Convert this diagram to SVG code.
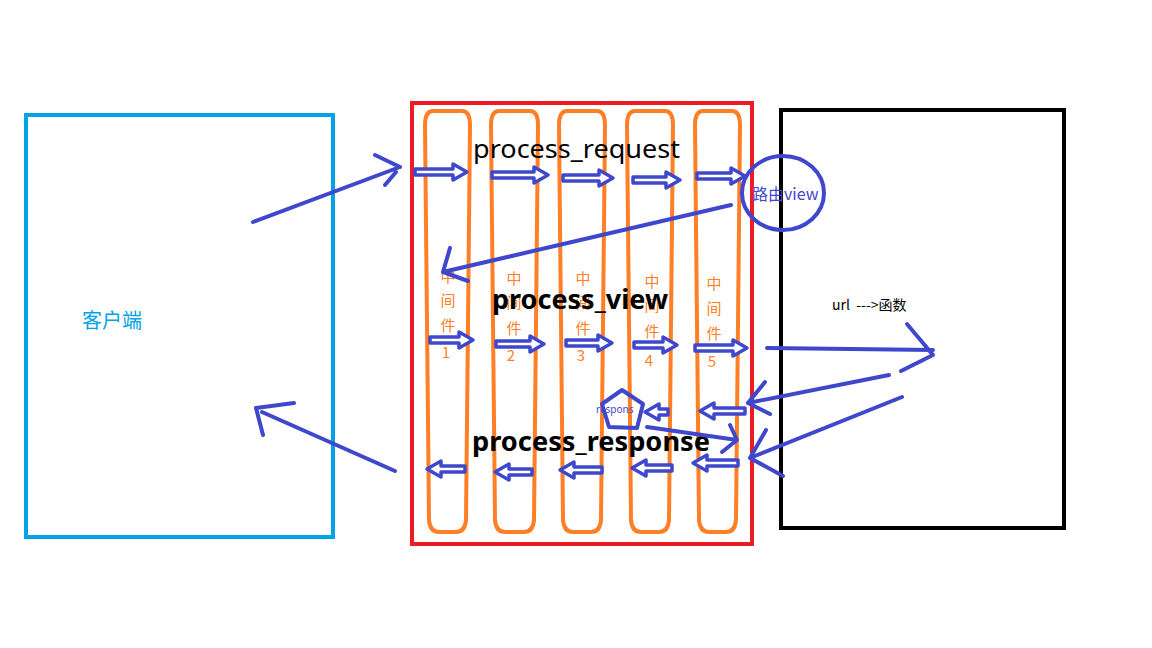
<svg xmlns="http://www.w3.org/2000/svg" width="1152" height="648" viewBox="0 0 1152 648">
<style>
.ba{fill:#fff;stroke:#3f48cc;stroke-width:3.5;stroke-linejoin:round}
.ln{fill:none;stroke:#3f48cc;stroke-width:4;stroke-linecap:round;stroke-linejoin:round}
.pill{fill:none;stroke:#ff7f27;stroke-width:4}
.mw{font-family:"Noto Sans CJK SC","Noto Sans",sans-serif;font-size:15px;fill:#ff7f27;text-anchor:middle}
.big{font-family:"Noto Sans","Noto Sans CJK SC",sans-serif;font-size:26px;fill:#000}
</style>
<rect width="1152" height="648" fill="#fff"/>
<g id="client">
<rect x="26" y="115" width="307" height="422" fill="none" stroke="#00a2e8" stroke-width="4"/>
<text x="82" y="328" font-family="Noto Sans CJK SC,sans-serif" font-size="20" fill="#00a2e8">客户端</text>
</g>
<g id="server">
<rect x="781" y="110" width="283" height="418" fill="none" stroke="#000" stroke-width="4"/>
<text x="832" y="310" font-family="Noto Sans CJK SC,sans-serif" font-size="14" fill="#000">url&#160; ---&gt;函数</text>
</g>
<g id="middleware-box">
<rect x="412" y="103" width="340" height="441" fill="none" stroke="#ed1c24" stroke-width="4"/>
</g>
<g id="mw1">
<path class="pill" d="M433 111 H462 Q470 111 470 125 L466 520 Q465 532 456 532 H439 Q430 532 429 520 L425 125 Q425 111 433 111 Z"/>
<text class="mw" x="448" y="282">中</text><text class="mw" x="448" y="306">间</text><text class="mw" x="448" y="331">件</text><text class="mw" x="446" y="358">1</text>
</g>
<g id="mw2">
<path class="pill" d="M499 111 H530 Q538 111 538 125 L534 520 Q533 532 524 532 H505 Q496 532 495 520 L491 125 Q491 111 499 111 Z"/>
<text class="mw" x="514" y="284">中</text><text class="mw" x="514" y="308">间</text><text class="mw" x="514" y="334">件</text><text class="mw" x="511" y="361">2</text>
</g>
<g id="mw3">
<path class="pill" d="M567 111 H597 Q605 111 605 125 L601 520 Q600 532 591 532 H573 Q564 532 563 520 L559 125 Q559 111 567 111 Z"/>
<text class="mw" x="583" y="284">中</text><text class="mw" x="583" y="308">间</text><text class="mw" x="583" y="334">件</text><text class="mw" x="581" y="361">3</text>
</g>
<g id="mw4">
<path class="pill" d="M635 111 H665 Q673 111 673 125 L669 520 Q668 532 659 532 H641 Q632 532 631 520 L627 125 Q627 111 635 111 Z"/>
<text class="mw" x="652" y="287">中</text><text class="mw" x="652" y="311">间</text><text class="mw" x="652" y="337">件</text><text class="mw" x="649" y="366">4</text>
</g>
<g id="mw5">
<path class="pill" d="M703 111 H732 Q740 111 740 125 L736 520 Q735 532 726 532 H709 Q700 532 699 520 L695 125 Q695 111 703 111 Z"/>
<text class="mw" x="714" y="289">中</text><text class="mw" x="714" y="314">间</text><text class="mw" x="714" y="339">件</text><text class="mw" x="712" y="367">5</text>
</g>
<g id="router">
<ellipse cx="783" cy="193" rx="41" ry="37" fill="none" stroke="#3f48cc" stroke-width="4"/>
<text x="752" y="200" font-family="Noto Sans CJK SC,sans-serif" font-size="16" fill="#3f48cc">路由view</text>
</g>
<g id="response">
<path d="M622 390 L643 404 L637 428 L609 427 L602 404 Z" fill="none" stroke="#3f48cc" stroke-width="4" stroke-linejoin="round"/>
<text x="596" y="413" font-family="Noto Sans,sans-serif" font-size="10" fill="#3f48cc">respons</text>
</g>
<g id="labels">
<text class="big" x="473" y="158" textLength="207" lengthAdjust="spacingAndGlyphs">process_request</text>
<text class="big" x="492" y="309" font-weight="bold" textLength="176" lengthAdjust="spacingAndGlyphs">process_view</text>
<text class="big" x="472" y="451" font-weight="bold" textLength="238" lengthAdjust="spacingAndGlyphs">process_response</text>
</g>
<g id="connectors">
<path class="ba" d="M415 169 H453 v-5 L467 172 l-14 8 v-5 H415 z"/>
<path class="ba" d="M492 172 H534 v-5 L548 175 l-14 8 v-5 H492 z"/>
<path class="ba" d="M563 175 H599 v-5 L613 178 l-14 8 v-5 H563 z"/>
<path class="ba" d="M633 177 H666 v-5 L680 180 l-14 8 v-5 H633 z"/>
<path class="ba" d="M697 173 H731 v-5 L745 176 l-14 8 v-5 H697 z"/>
<path class="ba" d="M430 337 H459 v-5 L473 340 l-14 8 v-5 H430 z"/>
<path class="ba" d="M496 341 H530 v-5 L544 344 l-14 8 v-5 H496 z"/>
<path class="ba" d="M566 340 H598 v-5 L612 343 l-14 8 v-5 H566 z"/>
<path class="ba" d="M634 342 H663 v-5 L677 345 l-14 8 v-5 H634 z"/>
<path class="ba" d="M695 345 H733 v-5 L747 348 l-14 8 v-5 H695 z"/>
<path class="ba" d="M465 466 H441 v-5 L427 469 l14 8 v-5 H465 z"/>
<path class="ba" d="M532 469 H509 v-5 L495 472 l14 8 v-5 H532 z"/>
<path class="ba" d="M602 467 H574 v-5 L560 470 l14 8 v-5 H602 z"/>
<path class="ba" d="M672 465 H646 v-5 L632 468 l14 8 v-5 H672 z"/>
<path class="ba" d="M738 460 H707 v-5 L693 463 l14 8 v-5 H738 z"/>
<path class="ba" d="M668 409 H659 v-5 L645 412 l14 8 v-5 H668 z"/>
<path class="ba" d="M745 408 H714 v-5 L700 411 l14 8 v-5 H745 z"/>
<path class="ln" d="M253 222 L400 167 M375 155 L400 167 M385 185 L396 172"/>
<path class="ln" d="M395 471 L262 412 M256 408 L294 403 M256 408 L263 435"/>
<path class="ln" d="M731 205 L443 272 M443 272 L450 248 M443 272 L468 281"/>
<path class="ln" d="M767 348 L933 350 M907 324 L933 355 L901 371"/>
<path class="ln" d="M889 375 L748 403 M748 403 L765 382 M748 403 L770 414"/>
<path class="ln" d="M902 397 L750 458 M750 458 L766 430 M750 458 L783 476"/>
<path class="ln" d="M647 427 L737 440 M730 425 L737 440 L722 452"/>
</g>
</svg>
